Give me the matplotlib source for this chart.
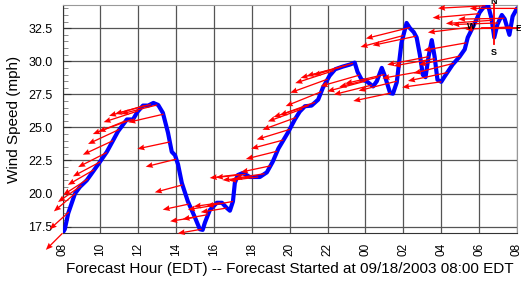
import numpy as np
import matplotlib
matplotlib.use('Agg')
import matplotlib.pyplot as plt
from matplotlib.ticker import MultipleLocator

plt.rcParams['font.family'] = ['Liberation Sans', 'DejaVu Sans']

# wind speed trace, hours after 08:00 EDT
line_hours = [0.00, 0.12, 0.30, 0.66, 0.92, 1.28, 1.93, 2.34, 2.93, 3.40, 3.72, 3.97,
              4.25, 4.52, 4.80, 5.05, 5.30, 5.57, 5.77, 5.94, 6.10, 6.30, 6.62, 6.99,
              7.25, 7.40, 7.52, 7.78, 8.15, 8.42, 8.68, 8.84, 9.00, 9.10, 9.26, 9.52,
              9.89, 10.42, 10.79, 11.10, 11.40, 11.90, 12.27, 12.53, 12.80, 13.15, 13.50,
              13.75, 14.10, 14.40, 14.80, 15.17, 15.43, 15.58, 15.80, 16.05, 16.40, 16.60,
              16.86, 17.02, 17.30, 17.45, 17.65, 17.90, 18.17, 18.35, 18.55, 18.70, 18.87,
              19.03, 19.17, 19.33, 19.50, 19.65, 19.80, 20.00, 20.18, 20.60, 20.97, 21.24,
              21.40, 21.66, 22.03, 22.30, 22.48, 22.66, 22.80, 22.97, 23.20, 23.35, 23.60,
              23.77, 24.00]
line_speed = [17.0, 17.3, 18.5, 20.0, 20.5, 21.0, 22.3, 23.15, 24.7, 25.6, 25.6, 26.2,
              26.65, 26.65, 26.85, 26.7, 26.1, 24.6, 23.15, 22.9, 22.2, 20.8, 19.4, 18.2,
              17.3, 17.25, 17.8, 18.75, 19.3, 19.3, 18.9, 18.7, 19.4, 20.8, 21.4, 21.55,
              21.25, 21.25, 21.6, 22.4, 23.4, 24.6, 25.6, 26.2, 26.6, 26.65, 27.1,
              28.0, 28.9, 29.4, 29.6, 29.75, 29.9, 29.2, 28.6, 28.5, 28.1, 28.5,
              29.5, 28.9, 27.6, 27.55, 28.4, 31.4, 32.9, 32.5, 32.2, 31.8, 30.5,
              28.97, 28.8, 30.35, 31.6, 30.35, 28.6, 28.45, 28.85, 29.75, 30.35, 30.9,
              31.8, 32.55, 33.7, 34.2, 34.2, 33.2, 31.8, 32.8, 33.5, 33.2, 32.0,
              33.4, 34.0]

# wind vectors every 20 minutes
vec_hours = [i / 3 for i in range(73)]
vec_speed = [17.0, 18.6, 20.0, 20.6, 21.1, 21.8, 22.4, 23.1, 24.0, 24.85, 25.5, 25.6,
             26.25, 26.65, 26.75, 26.7, 26.0, 23.9, 22.6, 20.65, 19.2, 18.2, 17.3, 18.4,
             19.1, 19.3, 18.9, 19.4, 21.45, 21.45, 21.25, 21.25, 21.5, 22.1, 23.2, 24.05,
             24.85, 25.75, 26.4, 26.65, 26.9, 27.7, 28.65, 29.3, 29.55, 29.7, 29.85, 28.95,
             28.5, 28.2, 28.8, 29.0, 27.6, 28.5, 31.95, 32.55, 31.9, 29.25, 30.35, 30.2,
             28.45, 29.15, 29.85, 30.4, 31.4, 32.6, 33.6, 34.2, 33.1, 32.9, 33.25, 32.6, 34.0]
vec_dir = [45, 48, 50, 55, 57, 60, 62, 63, 65, 65, 68, 70,
           72, 74, 75, 76, 77, 78, 76, 75, 78, 81, 80, 80,
           81, 82, 81, 80, 83, 84, 84, 83, 81, 78, 76, 75,
           73, 70, 70, 72, 70, 68, 70, 72, 75, 75, 73, 74,
           75, 76, 76, 77, 78, 76, 75, 76, 78, 80, 79, 80,
           82, 78, 76, 78, 80, 83, 85, 87, 86, 88, 89, 87, 90]

tick_hours = list(range(0, 25, 2))
tick_labels = ['08', '10', '12', '14', '16', '18', '20', '22', '00', '02', '04', '06', '08']

fig = plt.figure(figsize=(5.21, 2.83), dpi=100)
ax = fig.add_axes([0.12, 0.176, 0.8723, 0.806])

ax.plot(line_hours, line_speed, color='#0000ff', lw=3.0, solid_capstyle='round', zorder=3)

d = np.radians(vec_dir)
u = -np.array(vec_speed) * np.sin(d)
v = -np.array(vec_speed) * np.cos(d)
q = ax.quiver(vec_hours, vec_speed, u, v, color='#ff0000', angles='uv',
              scale_units='dots', scale=0.72, units='dots', width=1.3,
              headwidth=4.5, headlength=5.5, headaxislength=5, zorder=4)
q.set_clip_on(False)

# compass
cx, cy = 22.76, 32.55
ax.plot([cx, cx], [31.27, 34.3], color='#ff0000', lw=1.3, zorder=5, clip_on=False)
ax.plot([22.15, 24.1], [cy, cy], color='#ff0000', lw=1.3, zorder=5, clip_on=False)
for lab, x, y in [('N', cx, 34.55), ('S', cx, 30.66), ('W', 21.6, 32.62), ('E', 24.08, 32.5)]:
    ax.text(x, y, lab, ha='center', va='center', fontsize=6.5, fontweight='bold',
            color='black', zorder=6, clip_on=False)

ax.set_xlim(0, 24)
ax.set_ylim(17.0, 34.25)
ax.set_xticks(tick_hours)
ax.set_xticklabels(tick_labels, rotation=90, fontsize=8.5)
ax.set_yticks([17.5, 20.0, 22.5, 25.0, 27.5, 30.0, 32.5])
ax.set_yticklabels(['17.5', '20.0', '22.5', '25.0', '27.5', '30.0', '32.5'], fontsize=9)
ax.yaxis.set_minor_locator(MultipleLocator(0.5))
ax.tick_params(axis='x', length=0, pad=7)
ax.tick_params(axis='y', which='major', direction='in', length=6, color='#333333', pad=7)
ax.tick_params(axis='y', which='minor', direction='in', length=3.5, color='#777777')
ax.grid(True, which='major', color='#555555', lw=0.9)
ax.set_axisbelow(True)
for side in ['left', 'bottom']:
    ax.spines[side].set_color('#333333')
for side in ['top', 'right']:
    ax.spines[side].set_color('#999999')

ax.set_xlabel('Forecast Hour (EDT) -- Forecast Started at 09/18/2003 08:00 EDT', fontsize=11, labelpad=4)
ax.set_ylabel('Wind Speed (mph)', fontsize=11, labelpad=5)

fig.savefig('out.png', dpi=100)
